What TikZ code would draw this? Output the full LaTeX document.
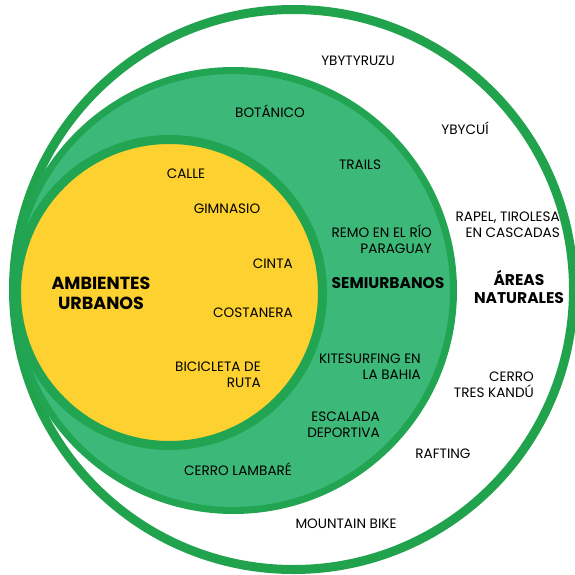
\documentclass[tikz,border=0pt]{standalone}
\usepackage{fontspec}
\setmainfont{Poppins}
\usepackage{tikz}
\definecolor{ringgreen}{HTML}{21A24C}
\definecolor{semigreen}{HTML}{3CB878}
\definecolor{edgegreen}{HTML}{22A553}
\definecolor{urbanyellow}{HTML}{FDD130}
\tikzstyle{zone} = [circle, inner sep=0pt]
\tikzstyle{lbl} = [inner sep=0pt, font=\fontsize{13.6}{16}\selectfont]
\tikzstyle{title} = [inner sep=0pt, align=center, font=\bfseries\fontsize{15.5}{18}\selectfont]

\begin{document}
\begin{tikzpicture}[x=1pt,y=-1pt]
    \useasboundingbox (0,0) rectangle (575,575);
    % the three zones
    \node [zone, draw=ringgreen, line width=9pt, fill=white, minimum size=560pt] (natural) at (293.5,289.5) {};
    \node [zone, draw=edgegreen, line width=7pt, fill=semigreen, minimum size=440pt] (semi) at (233.5,290.5) {};
    \node [zone, draw=edgegreen, line width=9pt, fill=urbanyellow, minimum size=306pt] (urban) at (169.5,292.5) {};
    % titles
    \node [title, font=\bfseries\fontsize{17.5}{20}\selectfont] (urbantitle) at (101,293) {AMBIENTES\\URBANOS};
    \node [title, font=\bfseries\fontsize{15.5}{18}\selectfont] (semititle) at (388,283) {SEMIURBANOS};
    \node [title] (naturaltitle) at (519,287) {ÁREAS\\NATURALES};
    % ambientes urbanos
    \node [lbl] (calle) at (186,174) {CALLE};
    \node [lbl] (gimnasio) at (227,209) {GIMNASIO};
    \node [lbl, anchor=east] (cinta) at (293,264) {CINTA};
    \node [lbl, anchor=east] (costanera) at (293,313) {COSTANERA};
    \node [lbl, anchor=east, align=right] (bicicleta) at (261,375) {BICICLETA DE\\RUTA};
    % semiurbanos
    \node [lbl] (botanico) at (270,111) {BOTÁNICO};
    \node [lbl] (trails) at (360,165) {TRAILS};
    \node [lbl, anchor=east, align=right] (remo) at (432,239) {REMO EN EL RÍO\\PARAGUAY};
    \node [lbl, anchor=east, align=right] (kite) at (421,367) {KITESURFING EN\\LA BAHIA};
    \node [lbl, anchor=east, align=right] (escalada) at (380,424.5) {ESCALADA\\DEPORTIVA};
    \node [lbl] (lambare) at (238,469) {CERRO LAMBARÉ};
    % areas naturales
    \node [lbl] (ybytyruzu) at (358,61) {YBYTYRUZU};
    \node [lbl] (ybycui) at (465,128) {YBYCUÍ};
    \node [lbl, anchor=east, align=right] (rapel) at (560,225) {RAPEL, TIROLESA\\EN CASCADAS};
    \node [lbl, anchor=east, align=right] (kandu) at (534,384.5) {CERRO\\TRES KANDÚ};
    \node [lbl] (rafting) at (443,454) {RAFTING};
    \node [lbl] (mountain) at (346,524) {MOUNTAIN BIKE};
\end{tikzpicture}
\end{document}
